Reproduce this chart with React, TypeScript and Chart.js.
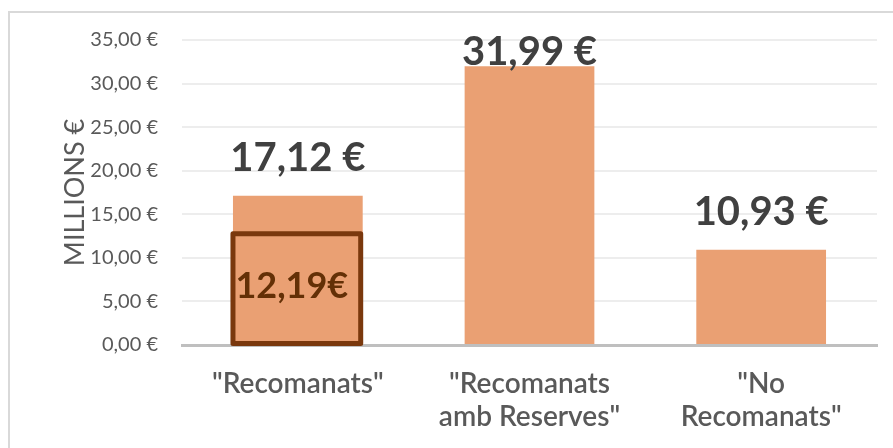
import React, { useEffect, useRef } from 'react';
import { Chart, registerables } from 'chart.js';

Chart.register(...registerables);

const categories: string[][] = [['"Recomanats"'], ['"Recomanats', 'amb Reserves"'], ['"No', 'Recomanats"']];
const values: number[] = [17.12, 31.99, 10.93];
const highlightValue = 12.19;
const highlightIndex = 0;
const highlightLabel = '12,19€';
const yMin = 0;
const yMax = 35;
const yStep = 5;
const axisTitle = 'MILLIONS €';

const FONT = 'Lato, "Open Sans", sans-serif';

const fmt = (v: number) => v.toFixed(2).replace('.', ',') + ' €';

export default function App() {
  const ref = useRef<HTMLCanvasElement | null>(null);

  useEffect(() => {
    if (!ref.current) return;

    const framePlugin = {
      id: 'frame',
      beforeDraw(chart: any) {
        const ctx = chart.ctx;
        ctx.save();
        ctx.strokeStyle = '#D9D9D9';
        ctx.lineWidth = 2;
        ctx.beginPath();
        ctx.moveTo(9, 460);
        ctx.lineTo(9, 12);
        ctx.lineTo(900, 12);
        ctx.stroke();
        ctx.restore();
      },
    };

    const labelsPlugin = {
      id: 'valueLabels',
      afterDatasetsDraw(chart: any) {
        const ctx = chart.ctx;
        const meta = chart.getDatasetMeta(0);
        const yScale = chart.scales.y;
        const area = chart.chartArea;
        ctx.save();
        // highlight box
        const hb = meta.data[highlightIndex];
        if (hb) {
          const w = hb.width;
          const left = hb.x - w / 2;
          const right = hb.x + w / 2 - 2;
          const top = yScale.getPixelForValue(highlightValue) - 5;
          const bottom = yScale.getPixelForValue(0) - 1.5;
          ctx.strokeStyle = '#7A380D';
          ctx.lineWidth = 5;
          ctx.lineJoin = 'round';
          ctx.strokeRect(left, top, right - left, bottom - top);
          ctx.fillStyle = '#643006';
          ctx.font = `bold 36px ${FONT}`;
          ctx.textAlign = 'center';
          ctx.textBaseline = 'middle';
          ctx.fillText(highlightLabel, hb.x - 6, (top + bottom) / 2 - 2);
        }
        ctx.fillStyle = '#404040';
        ctx.font = `bold 40px ${FONT}`;
        ctx.textAlign = 'center';
        ctx.textBaseline = 'alphabetic';
        meta.data.forEach((bar: any, i: number) => {
          const y = Math.max(bar.y - 25, area.top + 25);
          ctx.fillText(fmt(values[i]), bar.x, y);
        });
        ctx.restore();
      },
    };

    const chart = new Chart(ref.current, {
      type: 'bar',
      data: {
        labels: categories,
        datasets: [
          {
            data: values,
            backgroundColor: '#EAA073',
            borderWidth: 0,
            barPercentage: 0.56,
            categoryPercentage: 1,
          },
        ],
      },
      options: {
        animation: false,
        responsive: true,
        maintainAspectRatio: false,
        layout: { padding: { left: 0, top: 40, right: 16, bottom: 0 } },
        plugins: {
          legend: { display: false },
          tooltip: { enabled: false },
        },
        scales: {
          x: {
            grid: { display: false, drawTicks: false },
            border: { display: true, color: '#BFBFBF', width: 3 },
            ticks: {
              color: '#595959',
              font: { family: FONT, size: 28, weight: '600', lineHeight: 1.2 },
              padding: 22,
              maxRotation: 0,
              autoSkip: false,
            },
            afterFit(scale: any) {
              scale.height = 448 - 345;
            },
          },
          y: {
            min: yMin,
            max: yMax,
            grid: { color: '#EDEDED', lineWidth: 2, drawTicks: false },
            border: { display: false },
            ticks: {
              stepSize: yStep,
              color: '#595959',
              font: { family: FONT, size: 20 },
              padding: 24,
              callback: (v: any) => fmt(Number(v)),
            },
            title: {
              display: true,
              text: axisTitle,
              color: '#595959',
              font: { family: FONT, size: 27, lineHeight: 1.2 },
              padding: { top: 59, bottom: 0 },
            },
            afterFit(scale: any) {
              scale.width = 182;
            },
          },
        },
      },
      plugins: [framePlugin, labelsPlugin],
    } as any);

    return () => chart.destroy();
  }, []);

  return (
    <div style={{ position: 'absolute', left: 0, top: 0, width: 893, height: 448, background: '#fff' }}>
      <canvas ref={ref} />
    </div>
  );
}
